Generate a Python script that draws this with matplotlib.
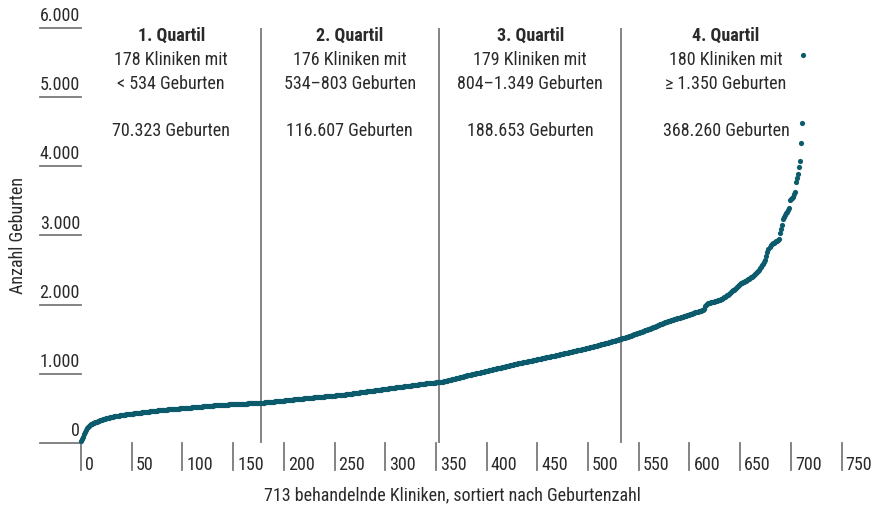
"""Geburten je Klinik, 713 Kliniken sortiert nach Geburtenzahl, mit Quartilen."""

import numpy as np
import matplotlib
matplotlib.use("Agg")
import matplotlib.pyplot as plt
from matplotlib import font_manager

# schmale Schrift, falls vorhanden
_names = {f.name for f in font_manager.fontManager.ttflist}
_fam = [n for n in ["Roboto Condensed", "Liberation Sans Narrow", "Open Sans Condensed",
                    "Roboto"] if n in _names]
plt.rcParams["font.family"] = _fam + ["DejaVu Sans"]
NARROW = bool(_fam) and _fam[0] != "Roboto"

# Geburten je Klinik, aufsteigend
BIRTHS = [
    30, 60, 95, 130, 160, 190, 215, 235, 255, 268,
    278, 284, 290, 296, 302, 307, 312, 318, 324, 330,
    335, 340, 344, 349, 354, 359, 363, 367, 372, 376,
    380, 383, 386, 389, 392, 395, 398, 400, 403, 405,
    408, 410, 412, 414, 416, 418, 420, 422, 424, 426,
    428, 430, 431, 433, 435, 436, 438, 440, 441, 443,
    445, 447, 449, 451, 453, 455, 457, 459, 461, 463,
    464, 466, 467, 469, 471, 472, 474, 476, 478, 479,
    481, 482, 483, 485, 486, 487, 489, 490, 491, 493,
    494, 495, 496, 497, 498, 500, 501, 502, 503, 504,
    505, 507, 508, 509, 511, 512, 514, 515, 516, 518,
    519, 520, 521, 522, 523, 524, 526, 528, 529, 530,
    532, 533, 535, 536, 537, 538, 540, 541, 542, 544,
    545, 546, 547, 548, 549, 550, 551, 552, 553, 554,
    555, 556, 557, 558, 559, 560, 561, 562, 563, 564,
    565, 566, 566, 567, 567, 568, 568, 569, 569, 570,
    570, 571, 572, 573, 574, 575, 576, 577, 578, 579,
    580, 581, 582, 583, 584, 585, 585, 586, 587, 588,
    589, 591, 592, 593, 595, 596, 598, 599, 600, 602,
    603, 604, 606, 607, 608, 610, 611, 612, 614, 615,
    617, 618, 620, 622, 623, 625, 627, 628, 630, 631,
    633, 634, 636, 637, 639, 640, 642, 643, 645, 646,
    648, 649, 651, 652, 654, 655, 656, 658, 659, 660,
    662, 663, 664, 666, 667, 668, 670, 671, 672, 674,
    675, 676, 678, 679, 680, 682, 683, 685, 686, 688,
    689, 691, 692, 694, 695, 697, 698, 700, 701, 703,
    704, 706, 708, 710, 712, 714, 716, 718, 720, 722,
    724, 726, 728, 730, 732, 734, 736, 738, 740, 742,
    744, 746, 748, 750, 752, 754, 756, 758, 760, 762,
    764, 766, 768, 770, 772, 774, 776, 778, 780, 782,
    784, 786, 788, 790, 792, 794, 796, 798, 800, 802,
    804, 806, 808, 810, 812, 814, 816, 818, 820, 822,
    824, 826, 828, 830, 832, 834, 836, 838, 840, 842,
    844, 846, 848, 850, 852, 854, 856, 858, 860, 862,
    864, 865, 867, 868, 870, 871, 873, 874, 876, 877,
    879, 880, 882, 884, 886, 888, 890, 892, 895, 898,
    901, 905, 909, 912, 916, 920, 923, 927, 931, 934,
    938, 942, 946, 949, 953, 957, 960, 964, 968, 971,
    975, 979, 982, 986, 989, 993, 996, 1000, 1003, 1007,
    1010, 1014, 1017, 1021, 1024, 1028, 1031, 1035, 1038, 1042,
    1045, 1048, 1052, 1055, 1059, 1062, 1066, 1069, 1073, 1076,
    1080, 1083, 1087, 1090, 1094, 1097, 1101, 1104, 1108, 1111,
    1115, 1118, 1122, 1125, 1129, 1132, 1136, 1139, 1143, 1146,
    1150, 1153, 1156, 1159, 1162, 1165, 1168, 1171, 1174, 1177,
    1180, 1183, 1186, 1189, 1192, 1195, 1198, 1201, 1204, 1207,
    1210, 1213, 1216, 1220, 1223, 1226, 1230, 1233, 1236, 1240,
    1243, 1247, 1250, 1253, 1257, 1260, 1263, 1267, 1270, 1273,
    1277, 1280, 1283, 1287, 1290, 1293, 1297, 1300, 1303, 1307,
    1310, 1313, 1317, 1320, 1323, 1327, 1330, 1333, 1337, 1340,
    1344, 1347, 1350, 1354, 1357, 1361, 1364, 1367, 1371, 1374,
    1378, 1381, 1385, 1388, 1392, 1396, 1399, 1403, 1407, 1411,
    1415, 1419, 1423, 1427, 1431, 1435, 1439, 1443, 1447, 1451,
    1455, 1459, 1463, 1467, 1471, 1476, 1480, 1484, 1488, 1493,
    1497, 1501, 1505, 1509, 1514, 1519, 1524, 1529, 1534, 1540,
    1545, 1550, 1556, 1561, 1566, 1572, 1577, 1582, 1587, 1593,
    1598, 1603, 1608, 1613, 1619, 1624, 1629, 1634, 1640, 1645,
    1650, 1656, 1662, 1668, 1674, 1680, 1686, 1692, 1698, 1704,
    1710, 1716, 1722, 1727, 1733, 1738, 1744, 1750, 1755, 1760,
    1765, 1770, 1775, 1779, 1784, 1788, 1793, 1797, 1802, 1806,
    1811, 1815, 1820, 1824, 1829, 1834, 1838, 1843, 1848, 1853,
    1858, 1863, 1868, 1873, 1878, 1884, 1890, 1896, 1902, 1908,
    1912, 1916, 1920, 1925, 1945, 1975, 2000, 2012, 2020, 2025,
    2030, 2034, 2038, 2042, 2046, 2050, 2054, 2058, 2062, 2066,
    2070, 2078, 2087, 2096, 2106, 2116, 2126, 2136, 2146, 2156,
    2165, 2178, 2192, 2206, 2220, 2234, 2248, 2262, 2276, 2290,
    2300, 2310, 2318, 2326, 2334, 2342, 2350, 2360, 2370, 2378,
    2385, 2395, 2405, 2418, 2432, 2446, 2460, 2475, 2490, 2508,
    2525, 2545, 2570, 2595, 2620, 2640, 2700, 2760, 2810, 2840,
    2860, 2875, 2885, 2895, 2905, 2915, 2925, 2935, 2945, 3030,
    3090, 3150, 3245, 3270, 3295, 3320, 3345, 3370, 3390, 3510,
    3530, 3545, 3560, 3600, 3630, 3775, 3830, 3895, 3990, 4080,
    4330, 4620, 5605,
]
assert len(BIRTHS) == 713

# Quartile
Q_COUNTS = [178, 176, 179, 180]
Q_TITLES = ["1. Quartil", "2. Quartil", "3. Quartil", "4. Quartil"]
Q_LINE1 = ["178 Kliniken mit", "176 Kliniken mit", "179 Kliniken mit", "180 Kliniken mit"]
Q_LINE2 = ["< 534 Geburten", "534–803 Geburten", "804–1.349 Geburten", "≥ 1.350 Geburten"]
Q_TOTAL = ["70.323 Geburten", "116.607 Geburten", "188.653 Geburten", "368.260 Geburten"]
Q_CENTER = [89, 265, 443, 636]

X_TICKS = [0, 50, 100, 150, 200, 250, 300, 350, 400, 450, 500, 550, 600, 650, 700, 750]
Y_TICKS = [0, 1000, 2000, 3000, 4000, 5000, 6000]
Y_LABELS = ["0", "1.000", "2.000", "3.000", "4.000", "5.000", "6.000"]

DOT = "#0b5b6c"
GREY = "#7a7a7a"
TXT = "#2a2a2a"
FS = 13 if NARROW else 11.2

W, H = 881, 511
fig = plt.figure(figsize=(W / 100, H / 100), dpi=100)
ax = fig.add_axes([81 / W, 67.7 / H, 760.5 / W, 415.6 / H])
ax.set_xlim(0, 750)
ax.set_ylim(0, 6000)
ax.axis("off")

# ── Punkte ───────────────────────────────────────────────────────────
x = np.arange(len(BIRTHS))
ax.scatter(x, BIRTHS, s=14, color=DOT, linewidths=0, zorder=3, clip_on=False)

# ── Quartilsgrenzen und Beschriftung ─────────────────────────────────
bounds = np.cumsum(Q_COUNTS)[:-1] - 0.5
for b in bounds:
    ax.plot([b, b], [0, 5990], color=GREY, lw=1.3, zorder=1)

for cx, t, l1, l2, tot in zip(Q_CENTER, Q_TITLES, Q_LINE1, Q_LINE2, Q_TOTAL):
    ax.text(cx, 5880, t, ha="center", va="center", fontsize=FS,
            fontweight="bold", color=TXT)
    ax.text(cx, 5534, l1, ha="center", va="center", fontsize=FS, color=TXT)
    ax.text(cx, 5187, l2, ha="center", va="center", fontsize=FS, color=TXT)
    ax.text(cx, 4509, tot, ha="center", va="center", fontsize=FS, color=TXT)

# ── Achsen (Striche mit Beschriftung) ────────────────────────────────
ytr = ax.get_yaxis_transform()
for v, lab in zip(Y_TICKS, Y_LABELS):
    ax.plot([-0.054, 0], [v, v], transform=ytr, color=GREY, lw=1.3,
            clip_on=False)
    ax.annotate(lab, xy=(0, v), xycoords=ytr, xytext=(-1, 3),
                textcoords="offset pixels", ha="right", va="bottom",
                fontsize=FS, color=TXT)

xtr = ax.get_xaxis_transform()
for v in X_TICKS:
    ax.plot([v, v], [0, -0.065], transform=xtr, color=GREY, lw=1.3,
            clip_on=False)
    ax.annotate(str(v), xy=(v, -0.065), xycoords=xtr, xytext=(4, 0),
                textcoords="offset pixels", ha="left", va="baseline",
                fontsize=FS, color=TXT)

ax.text(0.489, -0.125, "713 behandelnde Kliniken, sortiert nach Geburtenzahl",
        transform=ax.transAxes, ha="center", va="center", fontsize=FS,
        color=TXT)
fig.text(18 / W, 1 - 235 / H, "Anzahl Geburten", rotation=90, ha="center",
         va="center", fontsize=FS, color=TXT)

fig.savefig("out.png", dpi=100)
